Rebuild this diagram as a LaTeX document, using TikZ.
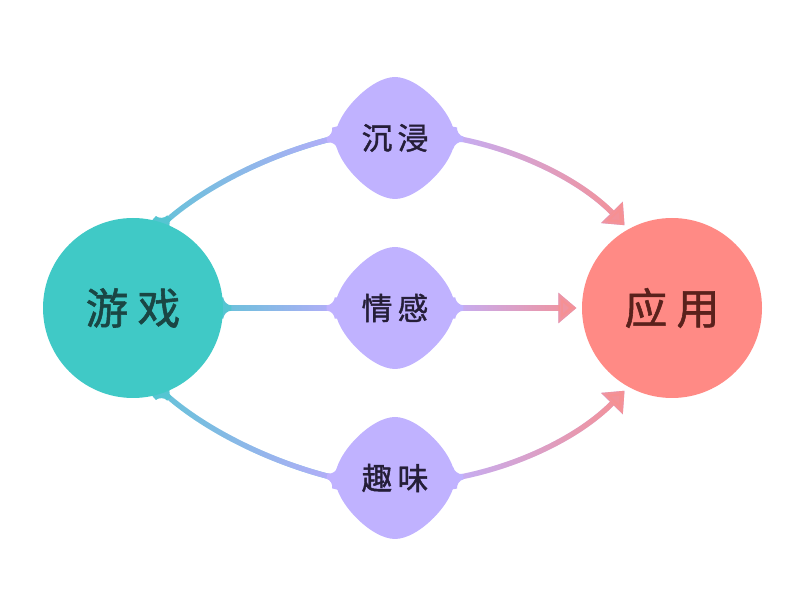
\documentclass[tikz,border=0pt]{standalone}
\usepackage{fontspec}
\setmainfont{Noto Sans CJK SC}[FakeBold=1.3]
\usetikzlibrary{arrows.meta,backgrounds,fadings}

\definecolor{teal1}{HTML}{40C9C6}
\definecolor{salmon1}{HTML}{FF8A85}
\definecolor{lilac1}{HTML}{C0B2FF}
\definecolor{neckA}{HTML}{55C5D2}
\definecolor{flowA}{HTML}{68C2DA}
\definecolor{flowB}{HTML}{B6ADFA}
\definecolor{flowC}{HTML}{C4AEF6}
\definecolor{flowD}{HTML}{F79092}
\definecolor{inkteal}{HTML}{1A4644}
\definecolor{inkred}{HTML}{5A211C}
\definecolor{inkviolet}{HTML}{251E38}

\tikzset{
  % rounded fillet where a line meets a shape (radius 8, half line width 2.7)
  pics/neck/.style={code={
    \fill[#1] (8,2.7) .. controls (3.6,2.7) and (0,7.1) .. (0,10.7) -- (-9,10.7) -- (-9,-10.7) -- (0,-10.7)
      .. controls (0,-7.1) and (3.6,-2.7) .. (8,-2.7) -- cycle;}},
  pics/blob/.style={code={
    \fill[#1] (-60,0) .. controls (-60,24) and (-24,61) .. (0,61) .. controls (24,61) and (60,24) .. (60,0)
      .. controls (60,-24) and (24,-61) .. (0,-61) .. controls (-24,-61) and (-60,-24) .. (-60,0) -- cycle;}}
}

% one connector: base colour, then the second colour faded in towards the east
\newcommand{\flow}[4][]{%
  \draw[link, draw=#2, #1] #4;
  \draw[link, draw=#3, path fading=west, #1] #4;
}

\begin{document}
\begin{tikzpicture}[
  x=0.75pt, y=0.75pt,
  hub/.style={circle, minimum size=135pt, inner sep=0pt, font=\fontsize{32pt}{32pt}\selectfont},
  stage/.style={circle, minimum size=90pt, inner sep=0pt, text=inkviolet, font=\fontsize{23pt}{23pt}\selectfont},
  link/.style={line width=4pt},
  tip/.style={-{Triangle[length=13.5pt, width=22pt]}, shorten >=4pt}
]
\useasboundingbox (0,0) rectangle (800,600);

\node[hub, fill=teal1, text=inkteal] (game) at (133,292) {游\hspace{7pt}戏};
\node[hub, fill=salmon1, text=inkred] (apply) at (672,292) {应\hspace{7pt}用};
\node[stage] (immerse) at (395,462) {沉\hspace{4pt}浸};
\node[stage] (emotion) at (395,292) {情\hspace{4pt}感};
\node[stage] (fun) at (395,122) {趣\hspace{4pt}味};

\begin{scope}[on background layer]
  % left half
  \flow{flowA}{flowB}{(game.70) .. controls (200,410) and (265,445) .. (immerse.west)}
  \flow{flowA}{flowB}{(game.east) ++(0,12) ++(0,-24) (game.east) -- (emotion.west)}
  \flow{flowA}{flowB}{(game.-70) .. controls (200,174) and (265,139) .. (fun.west)}
  % right half
  \flow[tip]{flowC}{flowD}{(immerse.east) .. controls (520,450) and (580,420) .. (apply.119)}
  \flow[tip]{flowC}{flowD}{(emotion.east) ++(0,12) ++(0,-24) (emotion.east) -- (apply.west)}
  \flow[tip]{flowC}{flowD}{(fun.east) .. controls (520,134) and (580,164) .. (apply.-119)}

  % necks where the lines leave the shapes
  \pic[rotate=48] at (game.70) {neck=neckA};
  \pic at (game.east) {neck=neckA};
  \pic[rotate=-48] at (game.-70) {neck=neckA};
  \pic[rotate=194] at (immerse.west) {neck=lilac1};
  \pic[rotate=-10] at (immerse.east) {neck=lilac1};
  \pic[rotate=180] at (emotion.west) {neck=lilac1};
  \pic at (emotion.east) {neck=lilac1};
  \pic[rotate=166] at (fun.west) {neck=lilac1};
  \pic[rotate=10] at (fun.east) {neck=lilac1};

  \foreach \n in {immerse,emotion,fun}
    \pic at (\n) {blob=lilac1};
\end{scope}
\end{tikzpicture}
\end{document}
